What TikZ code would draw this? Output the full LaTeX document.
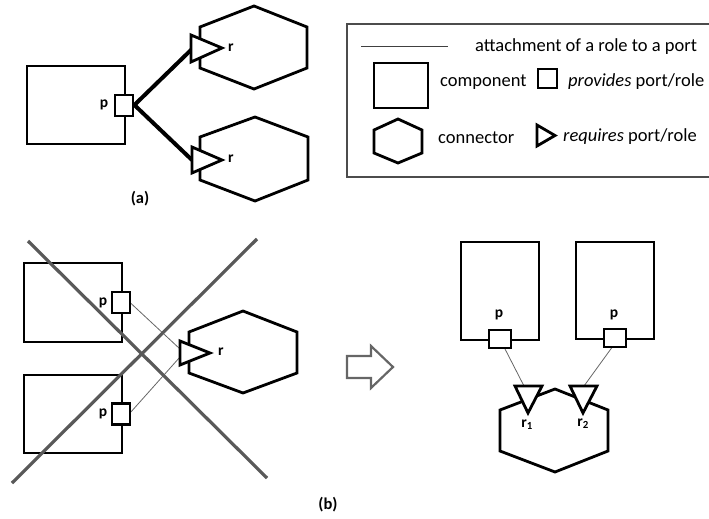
\documentclass[tikz,border=0pt]{standalone}
\usepackage{fontspec}
\setmainfont{Carlito}
\begin{document}
\begin{tikzpicture}[x=1pt,y=-1pt,
		comp/.style={draw,line width=2.8pt,inner sep=0},
		port/.style={draw,fill=white,line width=2.4pt,inner sep=0},
		shp/.style={line width=2.8pt,line join=miter},
		tri/.style={draw,fill=white,line width=2.8pt,line join=miter},
		lbl/.style={font=\fontsize{15.5}{17}\selectfont\bfseries,inner sep=0},
		txt/.style={font=\fontsize{18.5}{21}\selectfont,inner sep=0,anchor=base west},
		cross/.style={draw=black!65,line width=3.2pt}]
			\useasboundingbox (0,0) rectangle (709,519);
			
			% Hình (a): thành phần với cổng p
			\node[comp,minimum width=98,minimum height=78] (ca) at (76,105) {};
			\coordinate (ta1) at (192,49);
			\coordinate (ta2) at (192,160);
			\draw[line width=4pt] (ca.east) ++(8,0) coordinate (pa) -- (ta1);
			\draw[line width=4pt] (pa) -- (ta2);
			\node[port,minimum width=18,minimum height=21] (portA) at (124,105.5) {};
			\node[lbl] (lpA) at (104,105) {p};
			
			% Hai bộ nối
			\draw[shp] (254,6) -- (307,27) -- (307,68) -- (254,89) -- (200,68) -- (200,27) -- cycle;
			\draw[shp] (255,117) -- (308,137) -- (308,180) -- (255,201) -- (200,180) -- (200,137) -- cycle;
			\draw[tri] (191,35) -- (191,62) -- (222,48) -- cycle;
			\draw[tri] (192,147) -- (192,173) -- (222,160) -- cycle;
			\node[lbl] (lrA1) at (231,48) {r};
			\node[lbl] (lrA2) at (231,159) {r};
			\node[lbl,font=\fontsize{16.5}{18}\selectfont\bfseries] (capA) at (140,199) {(a)};
			
			% Chú thích
			\draw[black!70,line width=1.2pt] (347,24) rectangle (712,177);
			\coordinate (lg1) at (361,47);
			\coordinate (lg2) at (448,47);
			\draw[black!75,line width=1pt] (lg1) -- (lg2);
			\node[txt] (tAtt) at (475,52) {attachment of a role to a port};
			\node[comp,minimum width=54,minimum height=45] (lgComp) at (401,85.5) {};
			\node[txt] (tComp) at (440,86) {component};
			\node[port,minimum width=19,minimum height=19] (lgPort) at (547.5,78.5) {};
			\node[txt] (tProv) at (568,86) {\textit{provides} port/role};
			\draw[shp] (398,119) -- (422,130) -- (422,153) -- (398,163) -- (374,153) -- (374,130) -- cycle;
			\node[txt] (tConn) at (438,143) {connector};
			\draw[tri] (537,125) -- (537,146) -- (555,135.5) -- cycle;
			\node[txt] (tReq) at (563,141) {\textit{requires} port/role};
			
			% Hình (b): cách gắn sai
			\node[comp,minimum width=98,minimum height=79] (cb1) at (73,302.5) {};
			\node[comp,minimum width=98,minimum height=78] (cb2) at (73,414) {};
			\coordinate (tb1) at (180,349);
			\coordinate (tb2) at (180,357);
			\draw[black!60,line width=0.8pt] (130,302.5) -- (tb1);
			\draw[black!60,line width=0.8pt] (130,413) -- (tb2);
			\node[port,minimum width=18,minimum height=21] (portB1) at (121,302.5) {};
			\node[port,minimum width=18,minimum height=21] (portB2) at (121,414) {};
			\node[lbl] (lpB1) at (103,303) {p};
			\node[lbl] (lpB2) at (103,414) {p};
			\draw[shp] (243,311) -- (297,332) -- (297,373) -- (243,393) -- (189,373) -- (189,332) -- cycle;
			\draw[tri] (180,341) -- (180,365) -- (210,353) -- cycle;
			\node[lbl] (lrB) at (221,352) {r};
			
			% Dấu gạch chéo
			\draw[cross] (28,241) -- (267,478);
			\draw[cross] (12,483) -- (257,239);
			
			% Mũi tên rỗng
			\draw[black!60,line width=2.2pt,line join=miter] (347,356) -- (371,356) -- (371,346) -- (393,367)
				-- (371,388) -- (371,378) -- (347,378) -- cycle;
			
			% Cách gắn đúng: hai vai r1, r2
			\node[comp,minimum width=78,minimum height=98] (cc1) at (500,291) {};
			\node[comp,minimum width=78,minimum height=97] (cc2) at (615,290.5) {};
			\coordinate (tc1) at (524,386);
			\coordinate (tc2) at (584,386);
			\draw[black!60,line width=0.8pt] (504,347) -- (tc1);
			\draw[black!60,line width=0.8pt] (613,346) -- (tc2);
			\node[port,minimum width=22,minimum height=18] (portC1) at (500,339) {};
			\node[port,minimum width=22,minimum height=18] (portC2) at (615,338) {};
			\node[lbl] (lpC1) at (499,315) {p};
			\node[lbl] (lpC2) at (614,315) {p};
			\draw[shp] (555,389) -- (608,410) -- (608,451) -- (555,472) -- (500,451) -- (500,410) -- cycle;
			\draw[tri] (515,386) -- (542,386) -- (528,413) -- cycle;
			\draw[tri] (570,386) -- (597,386) -- (583,413) -- cycle;
			\node[lbl] (lrC1) at (527,425) {r\textsubscript{1}};
			\node[lbl] (lrC2) at (583,424) {r\textsubscript{2}};
			\node[lbl,font=\fontsize{16.5}{18}\selectfont\bfseries] (capB) at (328,505) {(b)};
		\end{tikzpicture}
\end{document}
